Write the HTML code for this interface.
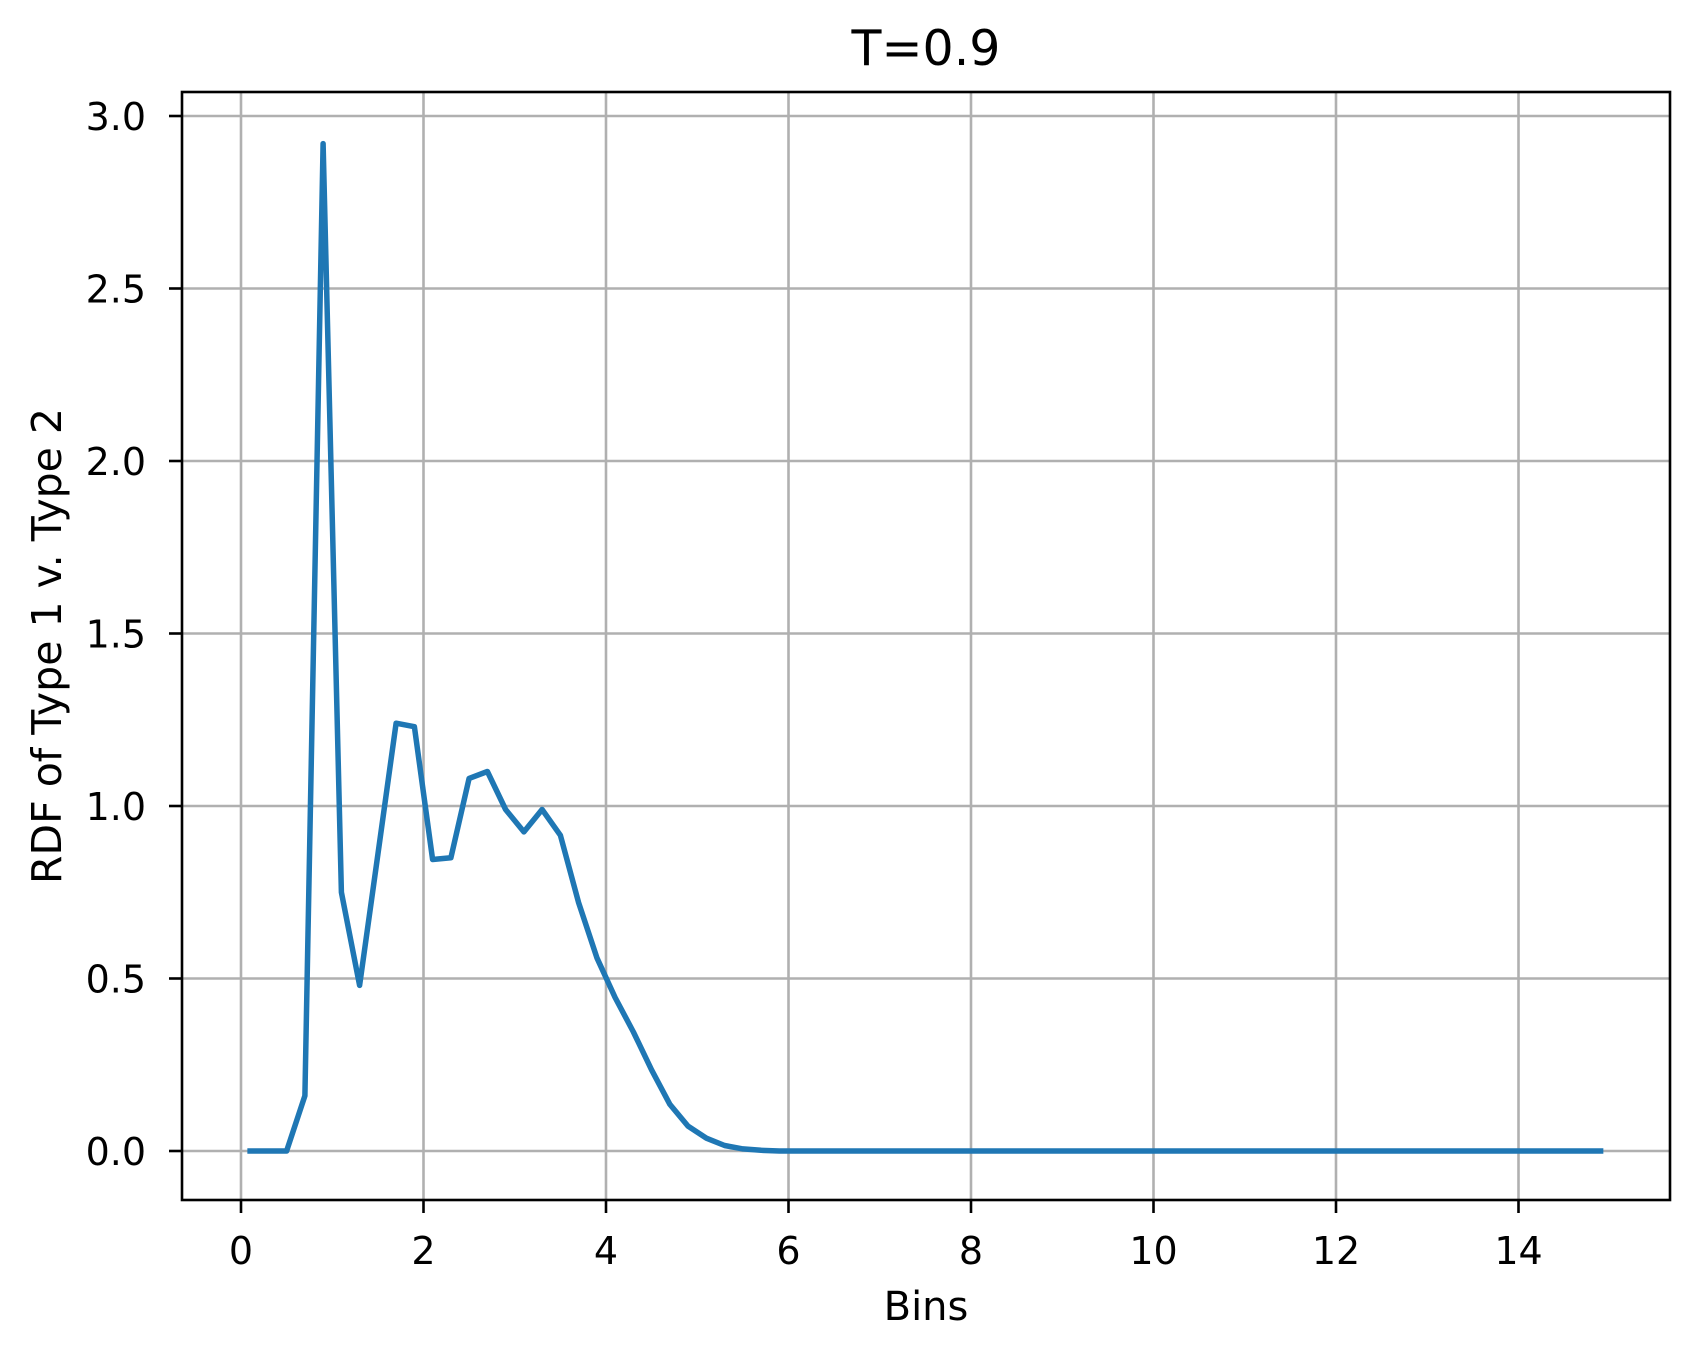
<!DOCTYPE html>
<html><head><meta charset="utf-8"><style>
html,body{margin:0;padding:0;background:#fff}
svg text{font-family:"DejaVu Sans","Liberation Sans",sans-serif;fill:#000}
</style></head><body>
<svg id="chart" width="1700" height="1357" viewBox="0 0 1700 1357" xmlns="http://www.w3.org/2000/svg">
<rect width="1700" height="1357" fill="#fff"/>
<g id="grid"></g><g id="series"></g><g id="axes"></g>
</svg>
<script>
const xTicks=[0,2,4,6,8,10,12,14];
const yTicks=[0.0,0.5,1.0,1.5,2.0,2.5,3.0];
const yTickLabels=["0.0","0.5","1.0","1.5","2.0","2.5","3.0"];
const headValues=[0,0,0,0.16,2.92,0.75,0.48,0.86,1.24,1.23,0.845,0.85,1.08,1.10,0.99,0.925,0.99,0.915,0.72,0.56,0.445,0.345,0.235,0.135,0.072,0.037,0.016,0.006,0.002];
const binCount=75;
const binStart=0.1, binStep=0.2;
const L=182,R=1670,T=92,B=1200;
const X=v=>241+v*91.25;
const Y=v=>1151-v*345;
const NS="http://www.w3.org/2000/svg";
function mk(tag,attrs,parent){const e=document.createElementNS(NS,tag);for(const k in attrs)e.setAttribute(k,attrs[k]);parent.appendChild(e);return e;}
const grid=document.getElementById('grid'),axes=document.getElementById('axes'),series=document.getElementById('series');
xTicks.forEach(t=>{
 const g=mk('line',{x1:X(t),x2:X(t),y1:T,y2:B,stroke:'#b0b0b0','stroke-width':2.6},grid);
 
 const tk=mk('line',{x1:X(t),x2:X(t),y1:B,y2:B+13,stroke:'#000','stroke-width':2.6},axes);
 
 const tx=mk('text',{x:X(t),y:B+64,'text-anchor':'middle','font-size':38},axes);tx.textContent=t;
 
});
yTicks.forEach((t,i)=>{
 const g=mk('line',{x1:L,x2:R,y1:Y(t),y2:Y(t),stroke:'#b0b0b0','stroke-width':2.6},grid);
 
 const tk=mk('line',{x1:L-13,x2:L,y1:Y(t),y2:Y(t),stroke:'#000','stroke-width':2.6},axes);
 
 const tx=mk('text',{x:L-36,y:Y(t)+14,'text-anchor':'end','font-size':38},axes);tx.textContent=yTickLabels[i];
 
});
const pts=[];
for(let i=0;i<binCount;i++){const v=i<headValues.length?headValues[i]:0;pts.push(X(binStart+i*binStep).toFixed(1)+','+Y(v).toFixed(1));}
const pl=mk('polyline',{points:pts.join(' '),fill:'none',stroke:'#1f77b4','stroke-width':5.5,'stroke-linejoin':'round','stroke-linecap':'square'},series);

const fr=mk('rect',{x:L,y:T,width:R-L,height:B-T,fill:'none',stroke:'#000','stroke-width':2.6},axes);

const ti=mk('text',{x:(L+R)/2,y:65,'text-anchor':'middle','font-size':49},axes);ti.textContent='T=0.9';

const xl=mk('text',{x:(L+R)/2,y:1320,'text-anchor':'middle','font-size':40},axes);xl.textContent='Bins';

const yl=mk('text',{x:0,y:0,'text-anchor':'middle','font-size':41,transform:'translate(61,'+((T+B)/2)+') rotate(-90)'},axes);yl.textContent='RDF of Type 1 v. Type 2';

</script>
</body></html>
